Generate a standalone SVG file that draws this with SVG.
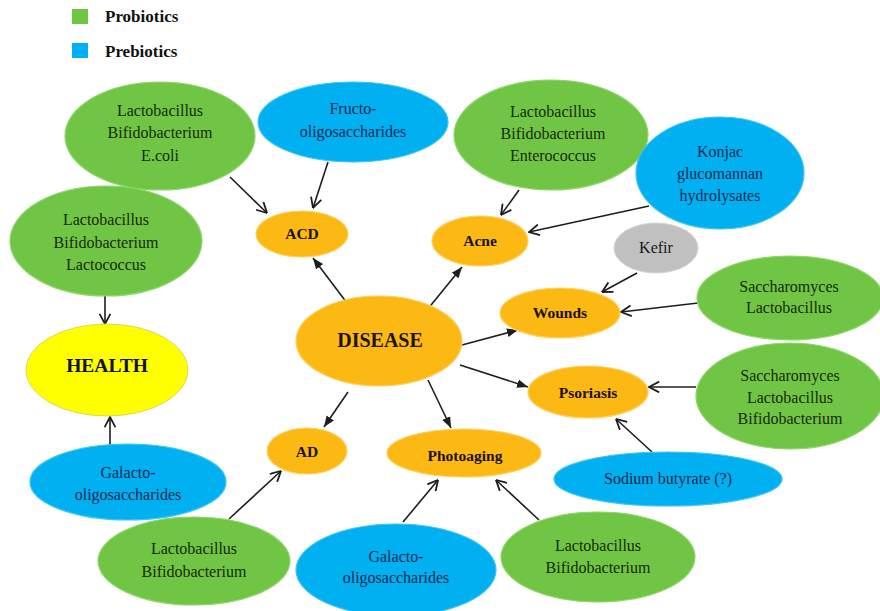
<svg xmlns="http://www.w3.org/2000/svg" width="880" height="611" viewBox="0 0 880 611">
<style>
.g{fill:#70c644;stroke:#8dd66a;stroke-width:1.2}
.b{fill:#00b0f0;stroke:#3cc4f4;stroke-width:1.2}
.o{fill:#fdb913;stroke:#fdd060;stroke-width:1.2}
.y{fill:#ffff00;stroke:#d8d860;stroke-width:1}
.k{fill:#c0c0c0;stroke:#d4d4d4;stroke-width:1}
text{font-family:"Liberation Serif","Times New Roman",serif;text-anchor:middle}
.tg{font-size:16px;fill:#172a0c}
.tb{font-size:16px;fill:#0c2a52}
.tk{font-size:15.5px;font-weight:bold;fill:#1a1205}
.lg{font-size:17px;font-weight:bold;fill:#111;text-anchor:start}
#conn line{stroke:#1e1e1e;stroke-width:1.6}
.in{marker-end:url(#open)}
.out{marker-end:url(#fill)}
</style>
<defs>
<marker id="open" viewBox="0 0 10 10" refX="9.5" refY="5" markerWidth="12" markerHeight="12" markerUnits="userSpaceOnUse" orient="auto">
<path d="M1,0.5 L9.5,5 L1,9.5" fill="none" stroke="#1e1e1e" stroke-width="1.5"/>
</marker>
<marker id="fill" viewBox="0 0 10 10" refX="10" refY="5" markerWidth="11" markerHeight="11" markerUnits="userSpaceOnUse" orient="auto">
<path d="M0,1 L10,5 L0,9 z" fill="#1e1e1e"/>
</marker>
</defs>
<rect width="880" height="611" fill="#fff"/>

<g id="legend">
<rect x="72" y="9" width="16" height="15" fill="#70c644"/>
<text class="lg" x="105" y="22">Probiotics</text>
<rect x="72" y="43" width="16" height="15" fill="#00b0f0"/>
<text class="lg" x="105" y="57">Prebiotics</text>
</g>

<g id="conn">
<line class="in" x1="230" y1="177" x2="267" y2="213"/>
<line class="in" x1="328" y1="162" x2="313" y2="208"/>
<line class="out" x1="347" y1="303" x2="313" y2="258"/>
<line class="in" x1="519" y1="190" x2="501" y2="215"/>
<line class="in" x1="649" y1="206" x2="529" y2="232"/>
<line class="out" x1="427" y1="310" x2="462" y2="267"/>
<line class="in" x1="637" y1="273" x2="602" y2="292"/>
<line class="in" x1="698" y1="303" x2="621" y2="312"/>
<line class="out" x1="462" y1="345" x2="518" y2="330"/>
<line class="out" x1="460" y1="365" x2="528" y2="387"/>
<line class="in" x1="696" y1="387" x2="649" y2="387"/>
<line class="in" x1="652" y1="452" x2="616" y2="419"/>
<line class="in" x1="539" y1="520" x2="496" y2="480"/>
<line class="in" x1="403" y1="522" x2="438" y2="480"/>
<line class="out" x1="428" y1="380" x2="451" y2="428"/>
<line class="out" x1="348" y1="392" x2="324" y2="427"/>
<line class="in" x1="229" y1="519" x2="281" y2="471"/>
<line class="in" x1="105" y1="296" x2="105" y2="324"/>
<line class="in" x1="110" y1="445" x2="110" y2="417"/>
</g>

<g id="n-ecoli"><ellipse class="g" cx="160" cy="136" rx="95" ry="54"/>
<text class="tg" x="160" y="116">Lactobacillus</text><text class="tg" x="160" y="138">Bifidobacterium</text><text class="tg" x="160" y="161">E.coli</text></g>

<g id="n-fos"><ellipse class="b" cx="353" cy="122" rx="95" ry="40"/>
<text class="tb" x="353" y="114">Fructo-</text><text class="tb" x="353" y="137">oligosaccharides</text></g>

<g id="n-entero"><ellipse class="g" cx="551" cy="135" rx="97" ry="55"/>
<text class="tg" x="553" y="117">Lactobacillus</text><text class="tg" x="553" y="139">Bifidobacterium</text><text class="tg" x="553" y="161">Enterococcus</text></g>

<g id="n-konjac"><ellipse class="b" cx="720" cy="173" rx="84" ry="56"/>
<text class="tb" x="720" y="157">Konjac</text><text class="tb" x="720" y="179">glucomannan</text><text class="tb" x="720" y="201">hydrolysates</text></g>

<g id="n-lacto"><ellipse class="g" cx="106" cy="241" rx="96" ry="55"/>
<text class="tg" x="106" y="225">Lactobacillus</text><text class="tg" x="106" y="248">Bifidobacterium</text><text class="tg" x="106" y="270">Lactococcus</text></g>

<g id="n-acd"><ellipse class="o" cx="302" cy="234" rx="46" ry="23"/>
<text class="tk" x="302" y="239">ACD</text></g>

<g id="n-acne"><ellipse class="o" cx="480" cy="241" rx="48" ry="25"/>
<text class="tk" x="480" y="246">Acne</text></g>

<g id="n-kefir"><ellipse class="k" cx="656" cy="248" rx="42" ry="25"/>
<text class="tg" x="656" y="253" style="fill:#1a1a1a">Kefir</text></g>

<g id="n-wounds"><ellipse class="o" cx="560" cy="313" rx="60" ry="25"/>
<text class="tk" x="560" y="318">Wounds</text></g>

<g id="n-sacch2"><ellipse class="g" cx="790" cy="298" rx="93" ry="42"/>
<text class="tg" x="789" y="292">Saccharomyces</text><text class="tg" x="789" y="313">Lactobacillus</text></g>

<g id="n-disease"><ellipse class="o" cx="379" cy="341" rx="83" ry="45"/>
<text class="tk" x="380" y="347" style="font-size:20px">DISEASE</text></g>

<g id="n-health"><ellipse class="y" cx="107" cy="370" rx="81" ry="46"/>
<text class="tk" x="107" y="372" style="font-size:19.5px;fill:#111">HEALTH</text></g>

<g id="n-psoriasis"><ellipse class="o" cx="588" cy="392" rx="60" ry="26"/>
<text class="tk" x="588" y="398">Psoriasis</text></g>

<g id="n-sacch3"><ellipse class="g" cx="790" cy="396" rx="94" ry="53"/>
<text class="tg" x="790" y="381">Saccharomyces</text><text class="tg" x="790" y="403">Lactobacillus</text><text class="tg" x="790" y="424">Bifidobacterium</text></g>

<g id="n-ad"><ellipse class="o" cx="307" cy="451" rx="40" ry="23"/>
<text class="tk" x="307" y="457">AD</text></g>

<g id="n-photo"><ellipse class="o" cx="464" cy="453" rx="77" ry="24"/>
<text class="tk" x="465" y="461">Photoaging</text></g>

<g id="n-gos1"><ellipse class="b" cx="128" cy="482" rx="98" ry="38"/>
<text class="tb" x="128" y="478">Galacto-</text><text class="tb" x="128" y="500">oligosaccharides</text></g>

<g id="n-sodium"><ellipse class="b" cx="668" cy="479" rx="114" ry="27"/>
<text class="tb" x="668" y="484">Sodium butyrate (?)</text></g>

<g id="n-lb1"><ellipse class="g" cx="194" cy="561" rx="96" ry="44"/>
<text class="tg" x="194" y="554">Lactobacillus</text><text class="tg" x="194" y="577">Bifidobacterium</text></g>

<g id="n-gos2"><ellipse class="b" cx="396" cy="570" rx="100" ry="46"/>
<text class="tb" x="396" y="562">Galacto-</text><text class="tb" x="396" y="583">oligosaccharides</text></g>

<g id="n-lb2"><ellipse class="g" cx="598" cy="557" rx="97" ry="45"/>
<text class="tg" x="598" y="551">Lactobacillus</text><text class="tg" x="598" y="573">Bifidobacterium</text></g>
</svg>
